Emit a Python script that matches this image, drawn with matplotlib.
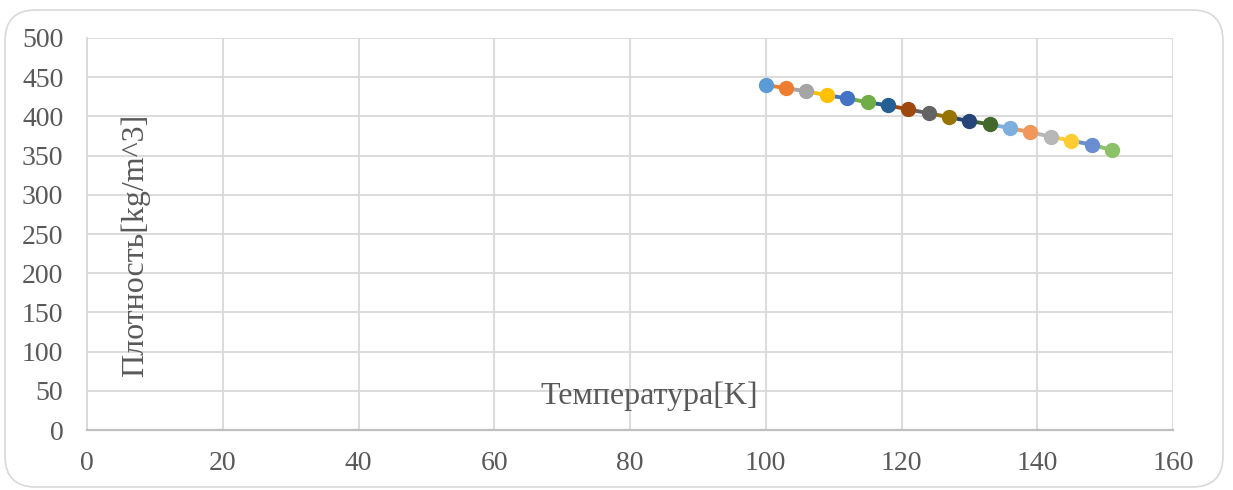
import matplotlib
matplotlib.use("Agg")
import matplotlib.pyplot as plt
from matplotlib.patches import FancyBboxPatch

temperature = [100, 103, 106, 109, 112, 115, 118, 121, 124, 127, 130, 133, 136, 139, 142, 145, 148, 151]
density = [440, 436, 432, 427, 423, 418, 414, 409, 404, 399, 394, 390, 385, 380, 374, 369, 364, 357]
colors = ["#5B9BD5", "#ED7D31", "#A5A5A5", "#FFC000", "#4472C4", "#70AD47", "#255E91", "#9E480E",
          "#636363", "#997300", "#264478", "#43682B", "#7CAFDD", "#F1975A", "#B7B7B7", "#FFCD33",
          "#698ED0", "#8CC168"]
x_ticks = [0, 20, 40, 60, 80, 100, 120, 140, 160]
y_ticks = [0, 50, 100, 150, 200, 250, 300, 350, 400, 450, 500]

plt.rcParams['font.family'] = ['Liberation Serif', 'DejaVu Serif']

W, H = 1233, 490
fig = plt.figure(figsize=(W / 100, H / 100), dpi=100)
fig.patch.set_facecolor("white")

# rounded chart-area border
border = FancyBboxPatch((5 / W, 3 / H), (1223 - 5) / W, (487 - 10) / H,
                        boxstyle="round,pad=0,rounding_size=0.025",
                        transform=fig.transFigure, facecolor="none",
                        edgecolor="#D9D9D9", linewidth=1.2, mutation_aspect=W / H,
                        zorder=-1)
fig.patches.append(border)

ax = fig.add_axes([87 / W, 1 - 430 / H, (1173 - 87) / W, (430 - 38) / H])
ax.set_facecolor("none")
ax.set_xlim(0, 160)
ax.set_ylim(0, 500)
ax.set_xticks(x_ticks)
ax.set_yticks(y_ticks)
ax.grid(True, color="#D9D9D9", linewidth=1.3)
ax.set_axisbelow(True)
ax.tick_params(length=0, labelsize=20, colors="#595959")
ax.tick_params(axis="x", pad=15)
ax.tick_params(axis="y", pad=17)
for s in ["top", "right"]:
    ax.spines[s].set_visible(False)
ax.spines["left"].set_color("#D9D9D9")
ax.spines["left"].set_linewidth(1.3)
ax.spines["bottom"].set_color("#BFBFBF")
ax.spines["bottom"].set_linewidth(1.6)

# each point is its own series; the connecting segment takes the colour of the next point
for i in range(1, len(temperature)):
    ax.plot(temperature[i - 1:i + 1], density[i - 1:i + 1], color=colors[i],
            linewidth=2.8, solid_capstyle="round", zorder=2)
for t, d, c in zip(temperature, density, colors):
    ax.plot([t], [d], marker="o", markersize=10, color=c, linestyle="none", zorder=3)

ax.text(0.518, 0.085, "Температура[K]", transform=ax.transAxes, fontsize=23,
        color="#595959", ha="center", va="center")
ax.text(0.045, 0.47, "Плотность[kg/m^3]", transform=ax.transAxes, fontsize=23,
        color="#595959", ha="center", va="center", rotation=90)

fig.savefig("out.png", dpi=100)
